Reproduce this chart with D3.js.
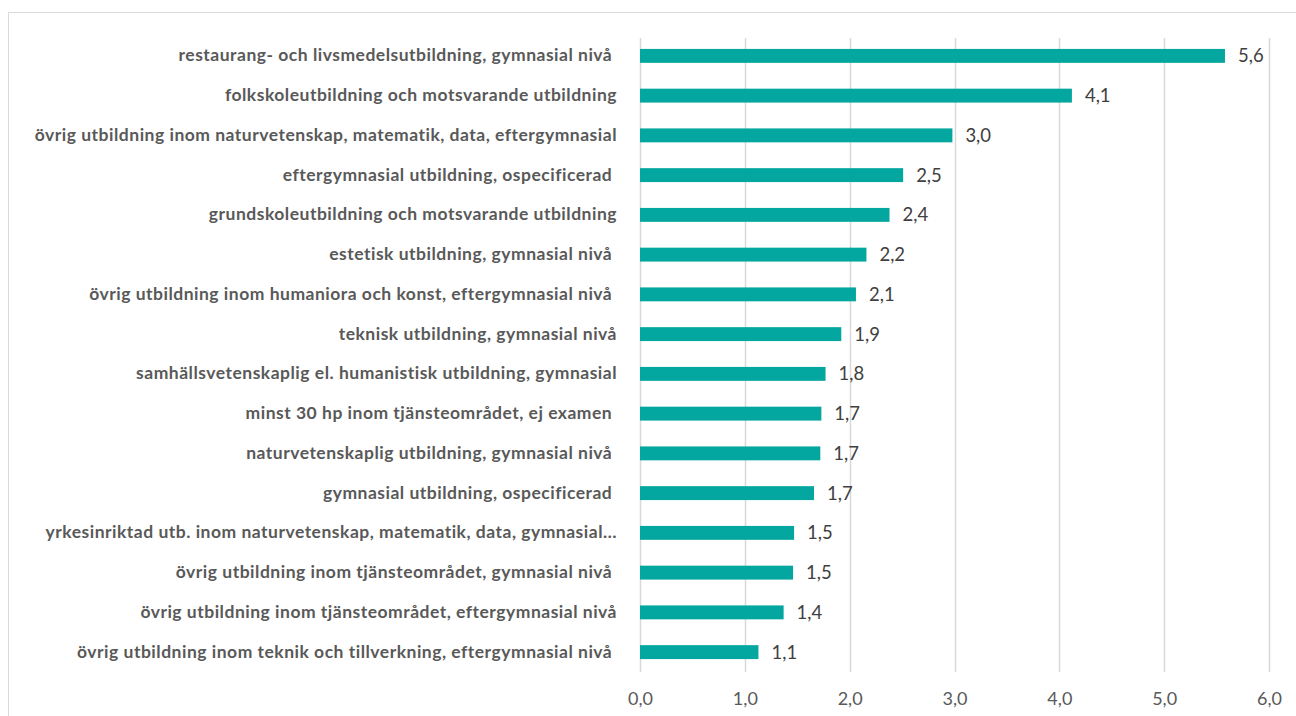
<!DOCTYPE html>
<html>
<head>
<meta charset="utf-8">
<script src="https://cdn.jsdelivr.net/npm/d3@7"></script>
<style>
  body { margin: 0; background: #fff; }
  svg { display: block; }
</style>
</head>
<body>
<div></div>
<script>
var width = 1296;
var height = 716;

// categories, top to bottom
var categories = [
  "restaurang- och livsmedelsutbildning, gymnasial nivå ",
  "folkskoleutbildning och motsvarande utbildning",
  "övrig utbildning inom naturvetenskap, matematik, data, eftergymnasial",
  "eftergymnasial utbildning, ospecificerad ",
  "grundskoleutbildning och motsvarande utbildning",
  "estetisk utbildning, gymnasial nivå ",
  "övrig utbildning inom humaniora och konst, eftergymnasial nivå ",
  "teknisk utbildning, gymnasial nivå",
  "samhällsvetenskaplig el. humanistisk utbildning, gymnasial",
  "minst 30 hp inom tjänsteområdet, ej examen ",
  "naturvetenskaplig utbildning, gymnasial nivå ",
  "gymnasial utbildning, ospecificerad ",
  "yrkesinriktad utb. inom naturvetenskap, matematik, data, gymnasial…",
  "övrig utbildning inom tjänsteområdet, gymnasial nivå ",
  "övrig utbildning inom tjänsteområdet, eftergymnasial nivå",
  "övrig utbildning inom teknik och tillverkning, eftergymnasial nivå "
];
var values = [5.58, 4.12, 2.98, 2.51, 2.38, 2.16, 2.06, 1.92, 1.77, 1.73, 1.72, 1.66, 1.47, 1.46, 1.37, 1.13];
var xTicks = [0, 1, 2, 3, 4, 5, 6];

var fmt = (v) => d3.format(".1f")(v).replace(".", ",");
var font = "Lato, 'Open Sans', sans-serif";

const svg = d3.select("div")
  .append("svg")
  .attr("width", width)
  .attr("height", height);

// chart frame
svg.append("rect")
  .attr("x", 8.5)
  .attr("y", 12.5)
  .attr("width", 1300)
  .attr("height", 720)
  .attr("fill", "none")
  .attr("stroke", "#d9d9d9");

var x = d3.scaleLinear().domain([0, 6]).range([640, 1269]);

var y = d3.scaleBand()
  .domain(categories)
  .range([36, 672])
  .paddingInner(0.65)
  .paddingOuter(0.325);

// vertical gridlines
svg.append("g")
  .selectAll("line")
  .data(xTicks)
  .join("line")
  .attr("x1", (d) => Math.round(x(d)) + 0.5)
  .attr("x2", (d) => Math.round(x(d)) + 0.5)
  .attr("y1", 38)
  .attr("y2", 672)
  .attr("stroke", "#d9d9d9")
  .attr("stroke-width", 1.5);

// x axis labels
var xAxis = (g) =>
  g
    .attr("transform", `translate(0,${672})`)
    .call(d3.axisBottom(x).tickValues(xTicks).tickFormat(fmt).tickSize(0).tickPadding(20))
    .call((g) => g.select(".domain").remove())
    .call((g) =>
      g.selectAll("text")
        .attr("fill", "#595959")
        .attr("font-size", 18)
        .attr("font-family", font)
    );

svg.append("g").call(xAxis);

// category labels
var yAxis = (g) =>
  g
    .attr("transform", `translate(${x(0)},0)`)
    .call(d3.axisLeft(y).tickSize(0).tickPadding(23))
    .call((g) => g.select(".domain").remove())
    .call((g) =>
      g.selectAll("text")
        .attr("fill", "#595959")
        .attr("font-size", 17.5)
        .attr("font-weight", 700)
        .attr("letter-spacing", 0.5)
        .attr("font-family", font)
        .style("white-space", "pre")
    );

svg.append("g").call(yAxis);

// bars
svg.append("g")
  .selectAll("rect")
  .data(values)
  .join("rect")
  .attr("x", x(0))
  .attr("y", (d, i) => y(categories[i]))
  .attr("width", (d) => x(d) - x(0))
  .attr("height", y.bandwidth())
  .attr("fill", "#04a6a0");

// value labels
svg.append("g")
  .selectAll("text")
  .data(values)
  .join("text")
  .attr("x", (d) => x(d) + 13)
  .attr("y", (d, i) => y(categories[i]) + y.bandwidth() / 2)
  .attr("dy", "0.35em")
  .attr("fill", "#404040")
  .attr("font-size", 18.5)
  .attr("font-family", font)
  .text((d) => fmt(d));
</script>
</body>
</html>
